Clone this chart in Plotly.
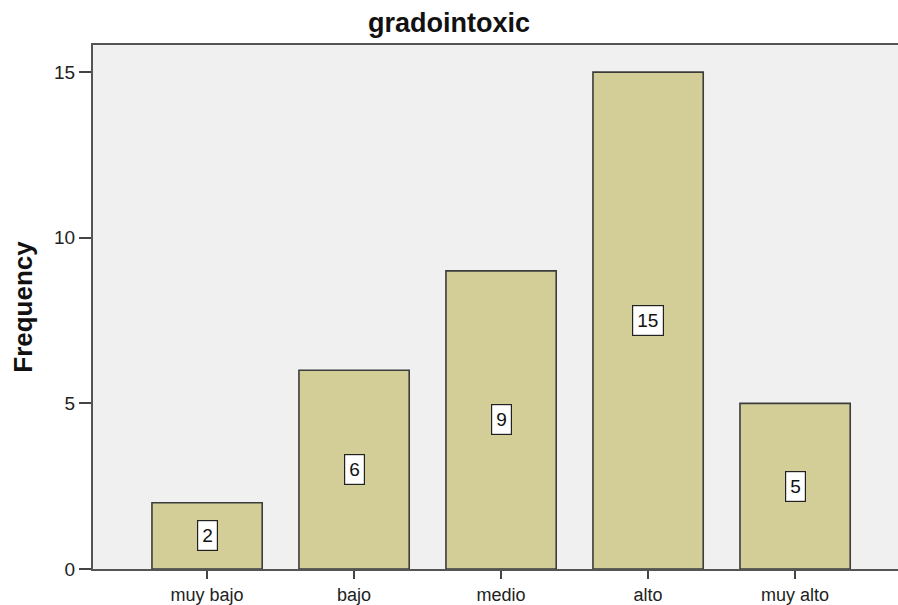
import plotly.graph_objects as go

# Frequency table for gradointoxic
categories = ["muy bajo", "bajo", "medio", "alto", "muy alto"]
frequencies = [2, 6, 9, 15, 5]
y_ticks = [0, 5, 10, 15]

FONT = "Liberation Sans, Arial, sans-serif"

fig = go.Figure()
fig.add_trace(go.Bar(
    x=list(range(len(categories))),
    y=frequencies,
    width=0.75,
    marker=dict(color="#d3ce98", line=dict(color="#3c3c3c", width=1.6)),
    hoverinfo="skip",
))

# White value labels centred in each bar
for i, v in enumerate(frequencies):
    fig.add_annotation(
        x=i, y=v / 2, text=str(v), showarrow=False,
        font=dict(family=FONT, size=19, color="#111111"),
        bgcolor="white", bordercolor="#222222", borderwidth=1.2, borderpad=4,
    )

fig.update_layout(
    width=898, height=605,
    margin=dict(l=93, r=0, t=45, b=36),
    paper_bgcolor="white",
    plot_bgcolor="#f0f0f0",
    showlegend=False,
    title=dict(text="<b>gradointoxic</b>", x=0.5, xref="container", y=0.962, yref="container",
               xanchor="center", yanchor="middle",
               font=dict(family=FONT, size=27, color="#111111")),
    font=dict(family=FONT, size=19, color="#222222"),
)

fig.update_xaxes(
    range=[-0.776, 4.70], automargin=False,
    tickmode="array", tickvals=list(range(len(categories))), ticktext=categories,
    ticks="outside", ticklen=8, tickwidth=2, tickcolor="#444444",
    showline=True, linecolor="#555555", linewidth=2, mirror=True,
    showgrid=False, zeroline=False,
    tickfont=dict(family=FONT, size=18, color="#222222"),
)
fig.update_yaxes(
    range=[0, 15.82], automargin=False,
    tickmode="array", tickvals=y_ticks,
    ticks="outside", ticklen=12, tickwidth=2, tickcolor="#444444",
    showline=True, linecolor="#555555", linewidth=2,
    showgrid=False, zeroline=False,
    title=dict(text="<b>Frequency</b>", standoff=14,
               font=dict(family=FONT, size=26, color="#111111")),
    tickfont=dict(family=FONT, size=19, color="#222222"),
)

fig.write_html("out.html")
